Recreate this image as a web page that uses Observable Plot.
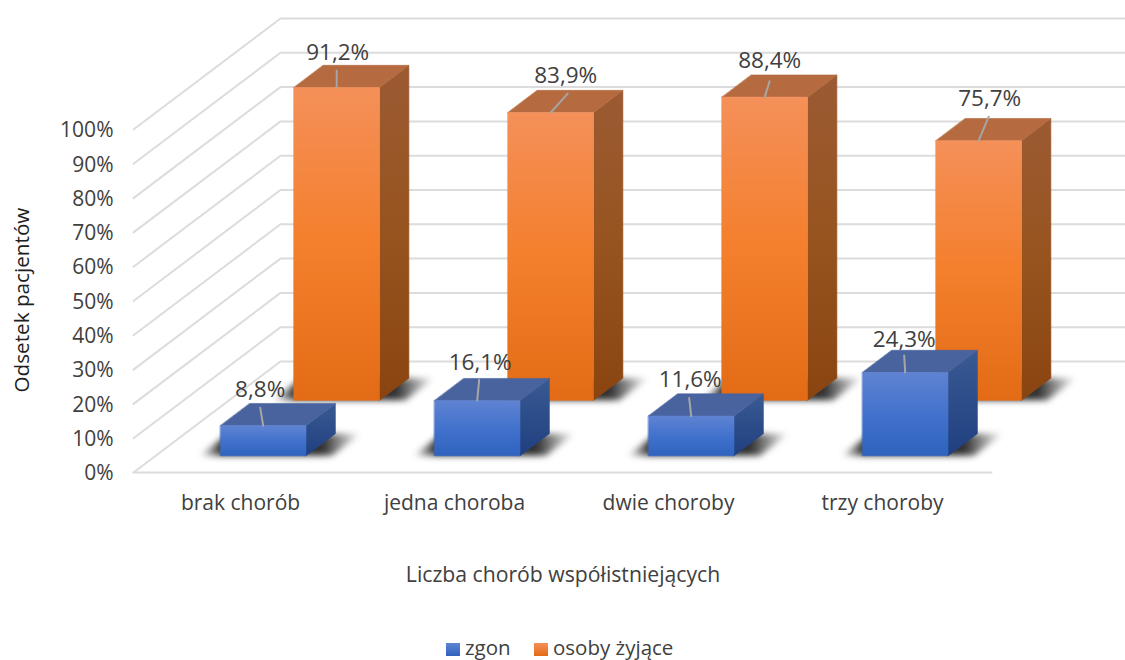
<!DOCTYPE html>
<html lang="pl">
<head>
<meta charset="utf-8">
<script src="https://cdn.jsdelivr.net/npm/d3@7"></script>
<script src="https://cdn.jsdelivr.net/npm/@observablehq/plot@0.6"></script>
<style>
  html, body { margin: 0; padding: 0; background: #fff; }
  body { font-family: "Open Sans", sans-serif; width: 1125px; overflow: hidden; }
  svg { display: block; }
  .legend { position: relative; height: 30px; font-size: 20.5px; color: #404040; }
  .legend span { position: absolute; top: 2px; line-height: 30px; white-space: nowrap; }
  .legend i { position: absolute; top: 13px; width: 14px; height: 13px; }
</style>
</head>
<body>
<div id="chart"></div>
<script>
const categories = ["brak chorób", "jedna choroba", "dwie choroby", "trzy choroby"];
const deaths = [8.8, 16.1, 11.6, 24.3];
const alive = [91.2, 83.9, 88.4, 75.7];
const seriesNames = ["zgon", "osoby żyjące"];
const yTicks = d3.range(0, 101, 10);

const pxX = 214, pxY = 3.43;
const shearX = 147 / pxX, shearY = 111 / pxY;
const barLeft = 0.303, barWidth = 0.4, barDepth = 0.2;
const project = (c, v, d) => ({x: c + d * shearX, y: v + d * shearY});
const floorEnd = (1125 - 133) / pxX;
const frontEnd = (991 - 133) / pxX;

const gridLines = yTicks.flatMap((v) => [
  {id: v, ...project(0, v, 0)},
  {id: v, ...project(0, v, 1)},
  {id: v, ...project(floorEnd - shearX, v, 1)}
]);
const floorFront = [{id: "f", ...project(0, 0, 0)}, {id: "f", ...project(frontEnd, 0, 0)}];

function faces(values, zf) {
  const out = {front: [], side: [], top: [], shadow: []};
  values.forEach((v, i) => {
    const l = i + barLeft, r = l + barWidth, zb = zf + barDepth;
    const poly = (k, pts) => pts.forEach((p) => out[k].push({id: i, ...project(...p)}));
    poly("front", [[l, 0, zf], [r, 0, zf], [r, v, zf], [l, v, zf]]);
    poly("side", [[r, 0, zf], [r, 0, zb], [r, v, zb], [r, v, zf]]);
    poly("top", [[l, v, zf], [r, v, zf], [r, v, zb], [l, v, zb]]);
    poly("shadow", [[l - 0.1, 0, zf], [r + 0.12, 0, zf], [r + 0.12, 0, zb], [l - 0.1, 0, zb]]);
  });
  return out;
}

// label shift from the middle of the front top edge: px right, px up
const offsets = {
  deaths: {lead: [[-3, 18], [2, 21], [-2, 18], [-1, 17]], text: [[-3, 36], [3, 38], [-1, 36], [-1, 33]]},
  alive: {lead: [[0, 17], [17, 19], [5, 16], [10, 24]], text: [[1, 35], [15, 37], [5, 36], [11, 42]]}
};
function annotations(values, zf, off) {
  const lines = [], labels = [];
  values.forEach((v, i) => {
    const c = i + barLeft + barWidth / 2;
    const a = project(c, v, zf);
    lines.push({id: i, ...a}, {id: i, x: a.x + off.lead[i][0] / pxX, y: a.y + off.lead[i][1] / pxY});
    labels.push({x: a.x + off.text[i][0] / pxX, y: a.y + off.text[i][1] / pxY,
      text: v.toFixed(1).replace(".", ",") + "%"});
  });
  return {lines, labels};
}

function barMarks(f, key) {
  const poly = (pts, fill) => Plot.line(pts, {x: "x", y: "y", z: "id", curve: "linear-closed", fill, stroke: fill, strokeWidth: 0.6});
  return [
    Plot.line(f.shadow, {x: "x", y: "y", z: "id", curve: "linear-closed", fill: "url(#shadow)", stroke: "none", imageFilter: "blur(3px)"}),
    poly(f.side, `url(#${key}-side)`),
    poly(f.top, key === "o" ? "#B56A3F" : "#48639E"),
    poly(f.front, `url(#${key}-front)`)
  ];
}

const grad = (id, stops) => `<linearGradient id="${id}" x1="0" y1="0" x2="0" y2="1">` +
  stops.map(([o, c]) => `<stop offset="${o}" stop-color="${c}"/>`).join("") + `</linearGradient>`;
const defs = () => {
  const g = document.createElementNS("http://www.w3.org/2000/svg", "g");
  g.innerHTML = "<defs>" +
    grad("o-front", [[0, "#F49059"], [0.5, "#F47F2C"], [1, "#E36B16"]]) +
    grad("o-side", [[0, "#9C5A33"], [0.5, "#97541F"], [1, "#8A4410"]]) +
    grad("b-front", [[0, "#5F83D2"], [0.55, "#3F70CC"], [1, "#2F63BE"]]) +
    grad("b-side", [[0, "#3A5A93"], [1, "#1F3F80"]]) +
    `<linearGradient id="shadow" x1="0" y1="0" x2="1" y2="0">
       <stop offset="0" stop-color="#262626" stop-opacity="0"/>
       <stop offset="0.14" stop-color="#262626" stop-opacity="0.95"/>
       <stop offset="0.76" stop-color="#262626" stop-opacity="0.95"/>
       <stop offset="1" stop-color="#262626" stop-opacity="0"/>
     </linearGradient>` +
    "</defs>";
  return g;
};

const fa = faces(alive, 0.65), fd = faces(deaths, 0.15);
const aa = annotations(alive, 0.65, offsets.alive), ad = annotations(deaths, 0.15, offsets.deaths);
const labelStyle = {x: "x", y: "y", text: "text", fontSize: 22.5, fill: "#404040"};

const plot = Plot.plot({
  width: 1125, height: 630,
  marginLeft: 116, marginRight: 134, marginTop: 0, marginBottom: 158,
  x: {domain: [0, 4], range: [133, 133 + 4 * pxX]},
  y: {domain: [0, 100], range: [472, 129]},
  style: {fontFamily: "'Open Sans', sans-serif", fontSize: "21px", color: "#404040", background: "#fff"},
  marks: [
    defs,
    Plot.line(gridLines, {x: "x", y: "y", z: "id", stroke: "#dcdcdc", strokeWidth: 2}),
    Plot.line(floorFront, {x: "x", y: "y", z: "id", stroke: "#dcdcdc", strokeWidth: 2}),
    Plot.axisY({ticks: yTicks, tickSize: 0, tickPadding: 3, dy: 1, tickFormat: (d) => d + "%", label: null, fontSize: 21, fill: "#404040"}),
    Plot.axisX({ticks: categories.map((_, i) => i + 0.5), tickFormat: (d) => categories[d - 0.5], tickSize: 0, tickPadding: 23, label: null, fontSize: 21, fill: "#404040"}),
    Plot.text(["Odsetek pacjentów"], {frameAnchor: "left", rotate: -90, dx: -94, dy: 156, fontSize: 20.7, fill: "#202020"}),
    Plot.text(["Liczba chorób współistniejących"], {frameAnchor: "bottom", dx: 9, dy: 109, fontSize: 21.2, fill: "#404040"}),
    ...barMarks(fa, "o"),
    Plot.line(aa.lines, {x: "x", y: "y", z: "id", stroke: "#a6a6a6", strokeWidth: 2}),
    ...barMarks(fd, "b"),
    Plot.line(ad.lines, {x: "x", y: "y", z: "id", stroke: "#a6a6a6", strokeWidth: 2}),
    Plot.text(aa.labels, labelStyle),
    Plot.text(ad.labels, labelStyle)
  ]
});
document.getElementById("chart").append(plot);

const legend = document.createElement("div");
legend.className = "legend";
const legendFills = ["linear-gradient(#5F83D2,#2F63BE)", "linear-gradient(#F49059,#E36B16)"];
const legendLeft = [446, 534];
seriesNames.forEach((n, i) => {
  const sw = document.createElement("i");
  sw.style.left = legendLeft[i] + "px";
  sw.style.background = legendFills[i];
  const t = document.createElement("span");
  t.style.left = legendLeft[i] + 19 + "px";
  t.textContent = n;
  legend.append(sw, t);
});
document.body.append(legend);
</script>
</body>
</html>
